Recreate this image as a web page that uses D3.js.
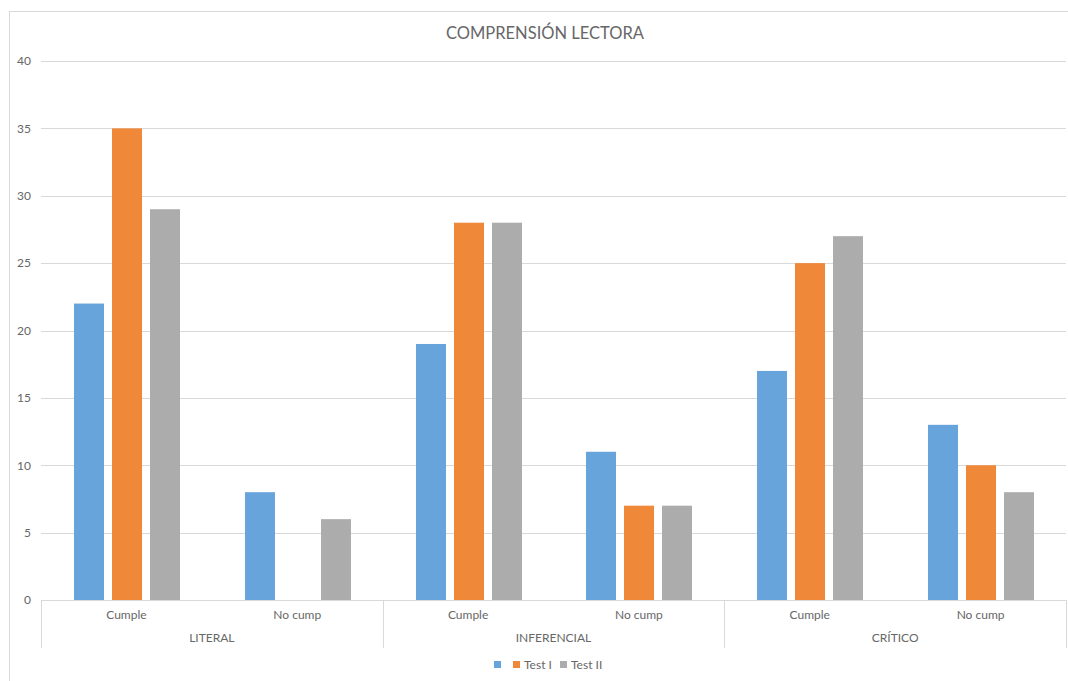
<!DOCTYPE html>
<html>
<head>
<meta charset="utf-8">
<script src="https://cdn.jsdelivr.net/npm/d3@7"></script>
<style>
  html, body { margin: 0; padding: 0; background: #fff; }
  svg { display: block; font-family: Lato, "Open Sans", "Liberation Sans", sans-serif; }
</style>
</head>
<body>
<svg id="chart" width="1068" height="681"></svg>
<script>
// Reading comprehension results by level and outcome
const levels = ["LITERAL", "INFERENCIAL", "CRÍTICO"];
const outcomes = ["Cumple", "No cump"];
const seriesNames = ["", "Test I", "Test II"];
const seriesColors = ["#66a4db", "#ef8839", "#acacac"];
const diagnostico = [22, 8, 19, 11, 17, 13];
const testI       = [35, 0, 28, 7, 25, 10];
const testII      = [29, 6, 28, 7, 27, 8];
const yTicks = [0, 5, 10, 15, 20, 25, 30, 35, 40];

const seriesValues = [diagnostico, testI, testII];
const categories = [];
levels.forEach(l => outcomes.forEach(o => categories.push({ level: l, outcome: o, key: l + "|" + o })));

const svg = d3.select("#chart");
const W = 1068, H = 681;
const plot = { left: 41, right: 1066, top: 61, bottom: 600 };
const textColor = "#676767";
const lineColor = "#d9d9d9";
const font = 'Lato, "Open Sans", "Liberation Sans", sans-serif';

// Chart frame
svg.append("rect")
  .attr("x", 9.5).attr("y", 11.5)
  .attr("width", W + 10).attr("height", H + 10)
  .attr("fill", "#fff").attr("stroke", lineColor).attr("stroke-width", 1);

// Title
svg.append("text")
  .attr("x", 545).attr("y", 39)
  .attr("text-anchor", "middle")
  .attr("font-size", 16.5).attr("fill", textColor)
  .text("COMPRENSIÓN LECTORA");

const x0 = d3.scaleBand().domain(categories.map(c => c.key))
  .range([plot.left, plot.right]).paddingInner(0).paddingOuter(0);
const y = d3.scaleLinear().domain([0, 40]).range([plot.bottom, plot.top]);

// Horizontal gridlines
svg.append("g").selectAll("line").data(yTicks.filter(t => t > 0)).join("line")
  .attr("x1", plot.left).attr("x2", plot.right)
  .attr("y1", d => Math.round(y(d)) + 0.5).attr("y2", d => Math.round(y(d)) + 0.5)
  .attr("stroke", lineColor).attr("stroke-width", 1);

// Y axis labels
const yAxis = d3.axisLeft(y).tickValues(yTicks).tickSize(0).tickPadding(0);
const yG = svg.append("g").attr("transform", `translate(31,0)`).call(yAxis);
yG.select(".domain").remove();
yG.selectAll("text").attr("font-size", 12).attr("fill", textColor).attr("font-family", font);

// Bars: three series inside each category band
const barW = 30, step = 38;
const barsG = svg.append("g");
seriesValues.forEach((vals, si) => {
  barsG.append("g").selectAll("rect").data(categories).join("rect")
    .attr("x", (c) => Math.round(x0(c.key) + x0.bandwidth() / 2 + (si - 1) * step - barW / 2 + 0.5))
    .attr("y", (c, i) => y(vals[i]))
    .attr("width", barW)
    .attr("height", (c, i) => y(0) - y(vals[i]))
    .attr("fill", seriesColors[si]);
});

// Category axis baseline
svg.append("line")
  .attr("x1", plot.left).attr("x2", plot.right)
  .attr("y1", plot.bottom + 0.5).attr("y2", plot.bottom + 0.5)
  .attr("stroke", lineColor);

// Group separators
const groupW = x0.bandwidth() * outcomes.length;
d3.range(levels.length + 1).forEach(i => {
  const gx = Math.round(plot.left + i * groupW) + 0.5;
  svg.append("line")
    .attr("x1", gx).attr("x2", gx)
    .attr("y1", plot.bottom).attr("y2", 648)
    .attr("stroke", lineColor);
});

// Outcome labels
const xAxis = d3.axisBottom(x0).tickSize(0).tickPadding(0).tickFormat(k => k.split("|")[1]);
const xG = svg.append("g").attr("transform", `translate(0,${plot.bottom + 10})`).call(xAxis);
xG.select(".domain").remove();
xG.selectAll("text").attr("font-size", 12).attr("fill", textColor).attr("font-family", font);

// Level labels
svg.append("g").selectAll("text").data(levels).join("text")
  .attr("x", (d, i) => plot.left + (i + 0.5) * groupW)
  .attr("y", 642)
  .attr("text-anchor", "middle")
  .attr("font-size", 12).attr("fill", textColor)
  .text(d => d);

// Legend
const legendItems = [
  { x: 494, tx: null },
  { x: 513, tx: 524 },
  { x: 560, tx: 571 }
];
const lg = svg.append("g");
seriesNames.forEach((name, i) => {
  lg.append("rect")
    .attr("x", legendItems[i].x).attr("y", 661)
    .attr("width", 7).attr("height", 7)
    .attr("fill", seriesColors[i]);
  if (name) {
    lg.append("text")
      .attr("x", legendItems[i].tx).attr("y", 668.5)
      .attr("font-size", 12).attr("fill", textColor)
      .text(name);
  }
});
</script>
</body>
</html>
